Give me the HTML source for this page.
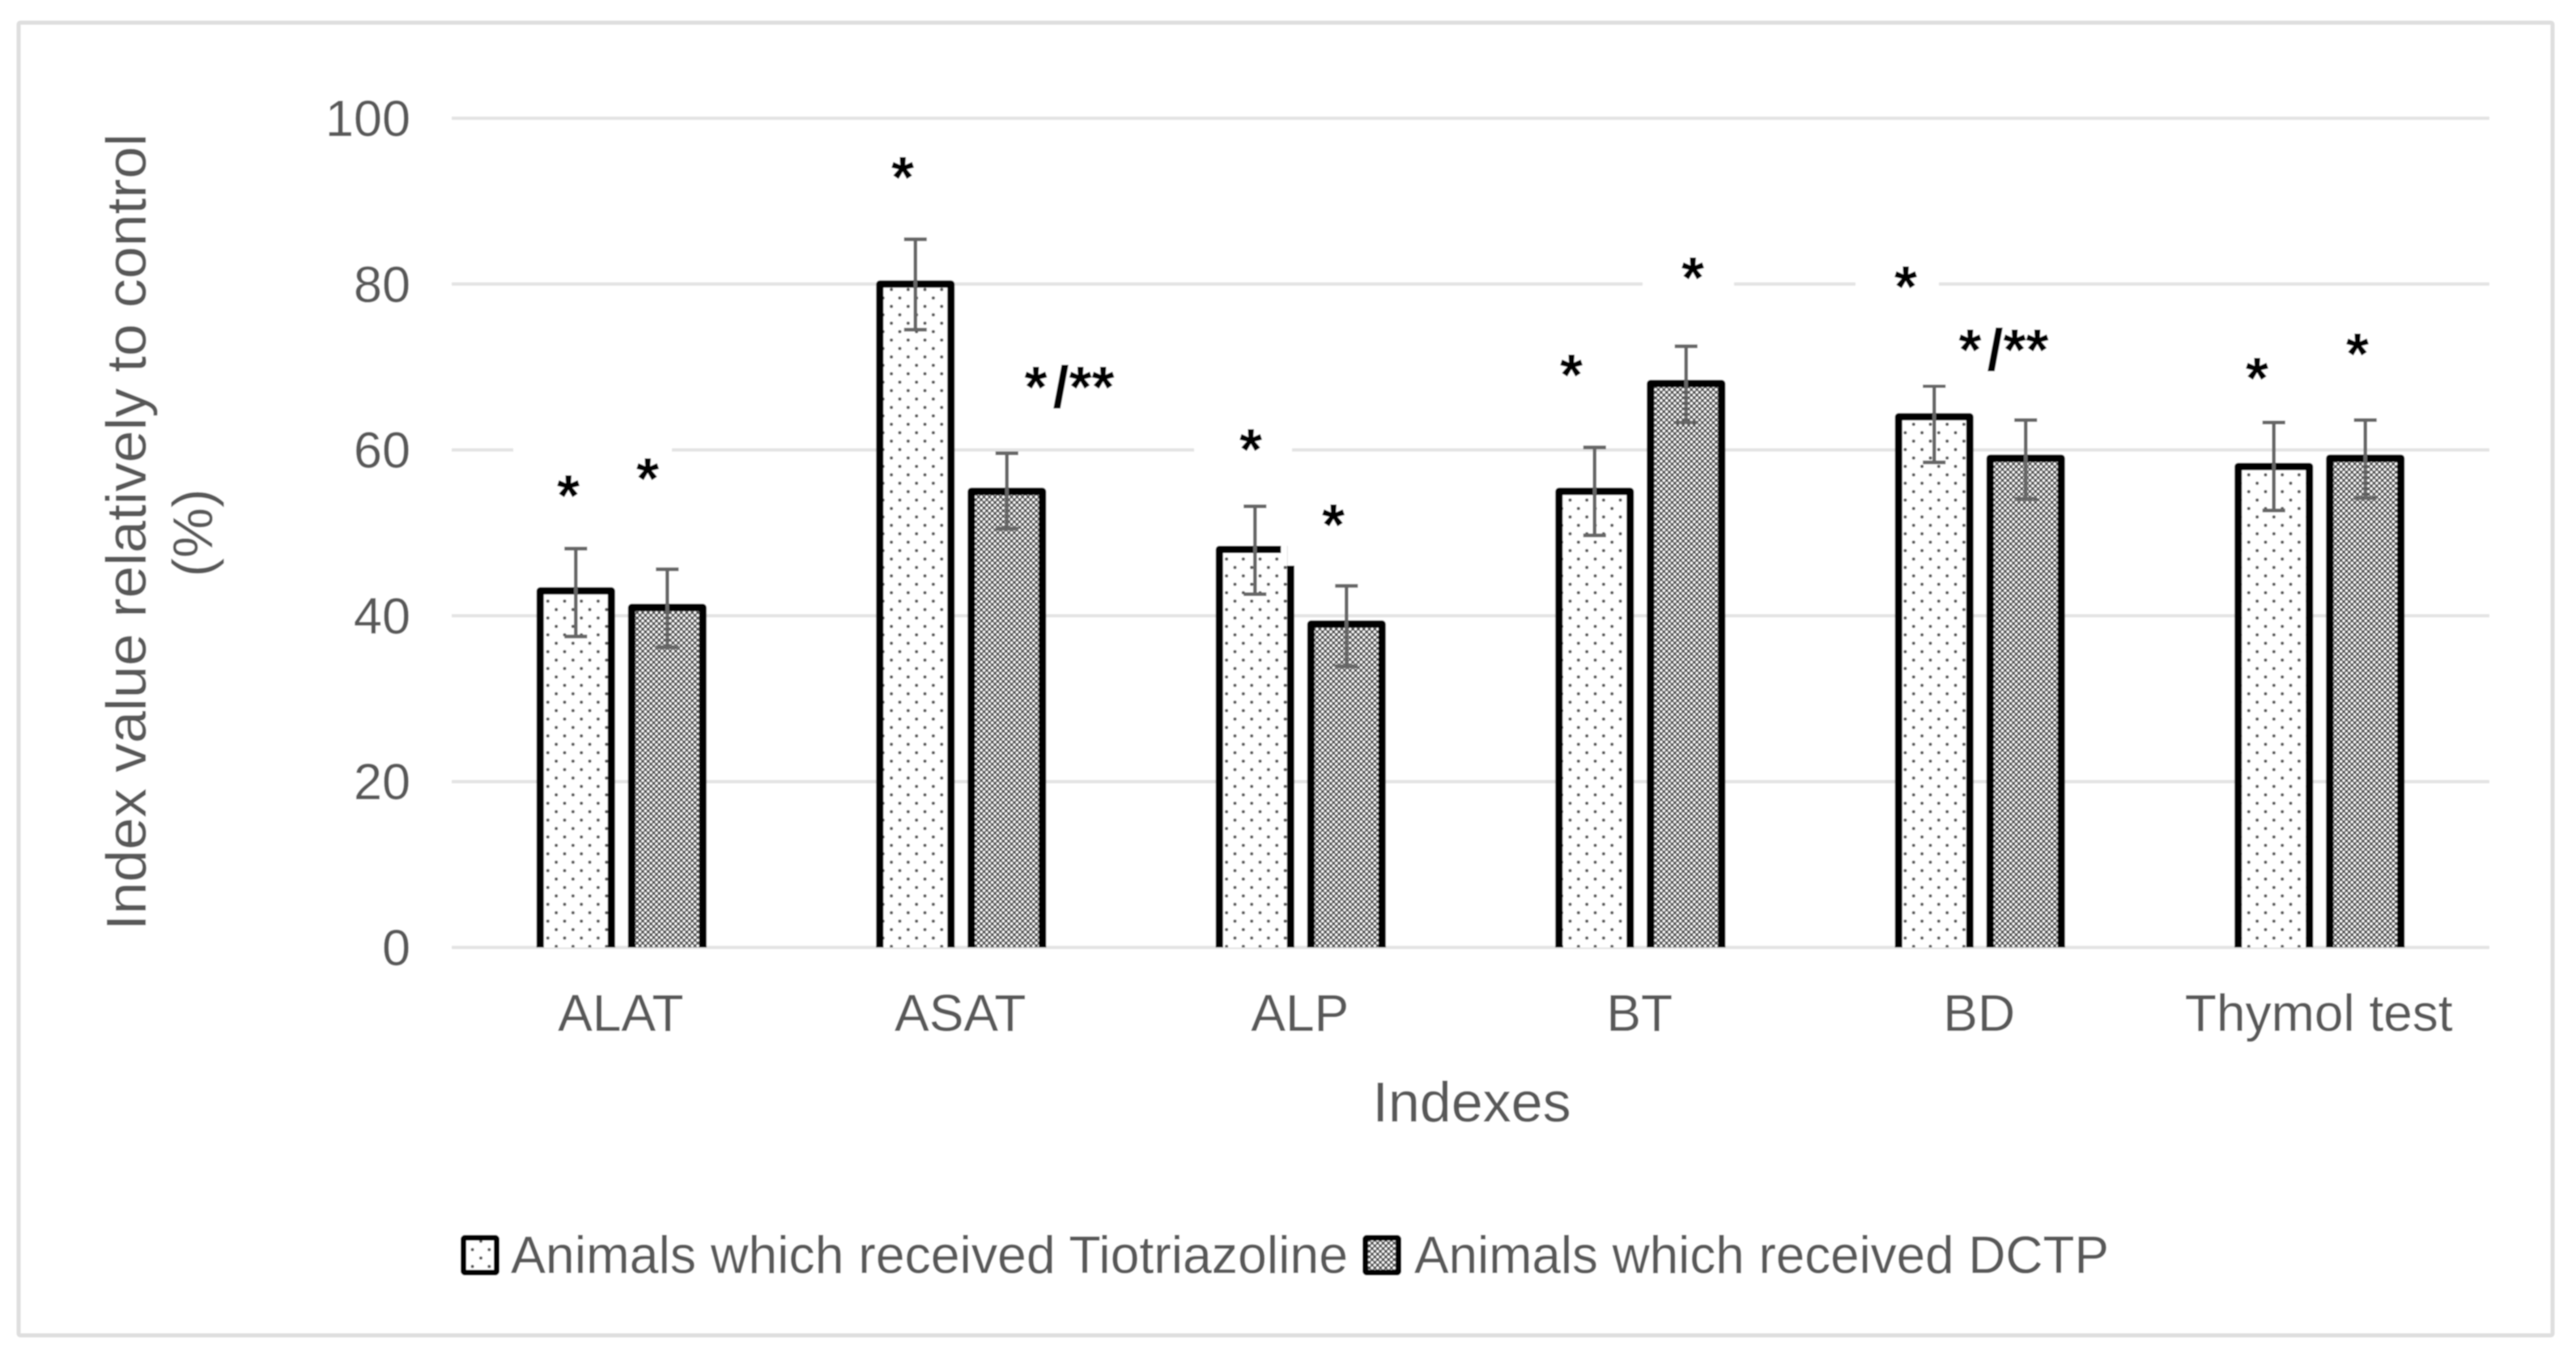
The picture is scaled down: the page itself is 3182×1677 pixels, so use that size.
<!DOCTYPE html>
<html lang="en">
<head>
<meta charset="utf-8">
<title>Index values relative to control</title>
<style>
  html, body { margin: 0; padding: 0; background: #ffffff; }
  svg { display: block; }
  text { font-family: "Liberation Sans", sans-serif; fill: #595959; }
  .star { font-weight: 700; fill: #000000; font-size: 72px; text-anchor: middle; }
</style>
</head>
<body>
<svg id="chart" xmlns="http://www.w3.org/2000/svg" width="3182" height="1677" viewBox="0 0 3182 1677">
  <defs>
    <filter id="soft" x="0" y="0" width="100%" height="100%" filterUnits="userSpaceOnUse" primitiveUnits="userSpaceOnUse">
      <feGaussianBlur stdDeviation="0.9"/>
    </filter>
    <pattern id="dots" patternUnits="userSpaceOnUse" width="20.7" height="20.8">
      <rect width="20.7" height="20.8" fill="#ffffff"/>
      <circle cx="4" cy="4" r="2" fill="#555555"/>
      <circle cx="14.35" cy="14.4" r="2" fill="#555555"/>
    </pattern>
    <pattern id="mesh" patternUnits="userSpaceOnUse" width="6.8" height="6.8">
      <rect width="6.8" height="6.8" fill="#4c4c4c"/>
      <circle cx="1.7" cy="1.7" r="1.7" fill="#ffffff"/>
      <circle cx="5.1" cy="5.1" r="1.7" fill="#ffffff"/>
    </pattern>
  </defs>
  <rect width="3182" height="1677" fill="#ffffff"/>
  <g id="root" filter="url(#soft)">
    <rect x="23" y="28" width="3130" height="1621" fill="#ffffff" stroke="#dedede" stroke-width="5" rx="2"/>
    <g id="grid"></g>
    <g>
      <rect x="634" y="545" width="196" height="20" fill="#ffffff"/>
      <rect x="1475" y="545" width="121" height="20" fill="#ffffff"/>
      <rect x="2029" y="341" width="113" height="20" fill="#ffffff"/>
      <rect x="2292" y="341" width="103" height="20" fill="#ffffff"/>
    </g>
    <g id="bars"></g>
    <g id="errors"></g>
    <rect x="2370" y="465" width="40" height="10" fill="#ffffff"/>
    <g id="yticks"></g>
    <g id="xticks"></g>

    <text x="180" y="657" font-size="70" text-anchor="middle" textLength="984" lengthAdjust="spacingAndGlyphs" transform="rotate(-90 180 657)">Index value relatively to control</text>
    <text x="262" y="658" font-size="70" text-anchor="middle" transform="rotate(-90 262 658)">(%)</text>
    <text x="1818" y="1385" font-size="70" text-anchor="middle">Indexes</text>

    <g>
      <text class="star" x="702" y="637">*</text>
      <text class="star" x="800" y="616">*</text>
      <text class="star" x="1115" y="244">*</text>
      <text class="star" x="1321" y="503">*<tspan dx="7">/</tspan>**</text>
      <text class="star" x="1545" y="580">*</text>
      <text class="star" x="1647" y="673">*</text>
      <text class="star" x="1941" y="488">*</text>
      <text class="star" x="2091" y="368">*</text>
      <text class="star" x="2354" y="379">*</text>
      <text class="star" x="2475" y="457">*<tspan dx="7">/</tspan>**</text>
      <text class="star" x="2788" y="492">*</text>
      <text class="star" x="2912" y="462">*</text>
    </g>

    <g>
      <rect x="572.5" y="1528.5" width="41" height="43" rx="2" fill="url(#dots)" stroke="#000000" stroke-width="7"/>
      <text x="631" y="1572" font-size="65" textLength="1034" lengthAdjust="spacingAndGlyphs">Animals which received Tiotriazoline</text>
      <rect x="1686.5" y="1528.5" width="41" height="43" rx="2" fill="url(#mesh)" stroke="#000000" stroke-width="7"/>
      <text x="1747" y="1572" font-size="65" textLength="858" lengthAdjust="spacingAndGlyphs">Animals which received DCTP</text>
    </g>
  </g>
</svg>
<script>
const categories = ['ALAT', 'ASAT', 'ALP', 'BT', 'BD', 'Thymol test'];
const tiotriazolineValues = [43, 80, 48, 55, 64, 58];
const dctpValues = [41, 55, 39, 68, 59, 59];
const tiotriazolineErrHigh = [48.1, 85.4, 53.2, 60.3, 67.7, 63.3];
const tiotriazolineErrLow = [37.5, 74.5, 42.6, 49.7, 58.5, 52.7];
const dctpErrHigh = [45.6, 59.6, 43.6, 72.5, 63.6, 63.6];
const dctpErrLow = [36.2, 50.5, 33.9, 63.3, 54.1, 54.2];
const yTicks = [0, 20, 40, 60, 80, 100];

const SVGNS = 'http://www.w3.org/2000/svg';
const plotLeft = 558, plotRight = 3075, plotBottom = 1170, pxPerUnit = 10.24;
const step = (plotRight - plotLeft) / categories.length;
const barWidth = 88, barOffset = 56.5, capHalf = 14;

function yScale(v) { return plotBottom - v * pxPerUnit; }
function xCenter(i) { return plotLeft + step * (i + 0.5); }
function make(tag, parent, attrs) {
  const el = document.createElementNS(SVGNS, tag);
  for (const k in attrs) el.setAttribute(k, attrs[k]);
  parent.appendChild(el);
  return el;
}

const gridG = document.getElementById('grid');
const yTickG = document.getElementById('yticks');
yTicks.forEach(function (t) {
  const line = make('line', gridG, { x1: plotLeft, x2: plotRight, y1: yScale(t), y2: yScale(t), stroke: '#e3e3e3', 'stroke-width': 4 });
  
  
  const label = make('text', yTickG, { x: 507, y: yScale(t) + 22, 'font-size': 63, 'text-anchor': 'end' });
  label.textContent = String(t);
  
  
});

const xTickG = document.getElementById('xticks');
categories.forEach(function (c, i) {
  const label = make('text', xTickG, { x: xCenter(i) - 1, y: 1273, 'font-size': 64, 'text-anchor': 'middle' });
  label.textContent = c;
  
  
});

const barsG = document.getElementById('bars');
const errG = document.getElementById('errors');

function drawBar(i, value, cx, fill, seriesName) {
  const top = yScale(value);
  const left = cx - barWidth / 2, right = cx + barWidth / 2;
  const body = make('rect', barsG, { x: left, y: top, width: barWidth, height: plotBottom - top, fill: fill });
  
  
  const outline = make('path', barsG, {
    d: 'M' + left + ' ' + plotBottom + 'V' + top + 'H' + right + 'V' + plotBottom,
    fill: 'none', stroke: '#000000', 'stroke-width': 9, 'stroke-linejoin': 'round'
  });
  
  
  // the ALP Tiotriazoline outline is visibly broken at its top-right corner in the source figure
  if (seriesName === 'tiotriazoline' && categories[i] === 'ALP') {
    const notch = make('rect', barsG, { x: right - 12, y: top - 6, width: 8, height: 26, fill: '#ffffff' });
    
    
    const notch2 = make('rect', barsG, { x: right - 4, y: top - 6, width: 10, height: 26, fill: '#ffffff' });
    
    
  }
}

function drawError(hi, lo, cx, seriesName, i) {
  const d = 'M' + cx + ' ' + yScale(hi) + 'V' + yScale(lo) +
            'M' + (cx - capHalf) + ' ' + yScale(hi) + 'H' + (cx + capHalf) +
            'M' + (cx - capHalf) + ' ' + yScale(lo) + 'H' + (cx + capHalf);
  const p = make('path', errG, { d: d, fill: 'none', stroke: '#666666', 'stroke-width': 4.5 });
  
  
}

categories.forEach(function (c, i) {
  const cxA = xCenter(i) - barOffset;
  const cxB = xCenter(i) + barOffset;
  drawBar(i, tiotriazolineValues[i], cxA, 'url(#dots)', 'tiotriazoline');
  drawBar(i, dctpValues[i], cxB, 'url(#mesh)', 'dctp');
  drawError(tiotriazolineErrHigh[i], tiotriazolineErrLow[i], cxA, 'tiotriazoline', i);
  drawError(dctpErrHigh[i], dctpErrLow[i], cxB, 'dctp', i);
});
</script>
</body>
</html>
